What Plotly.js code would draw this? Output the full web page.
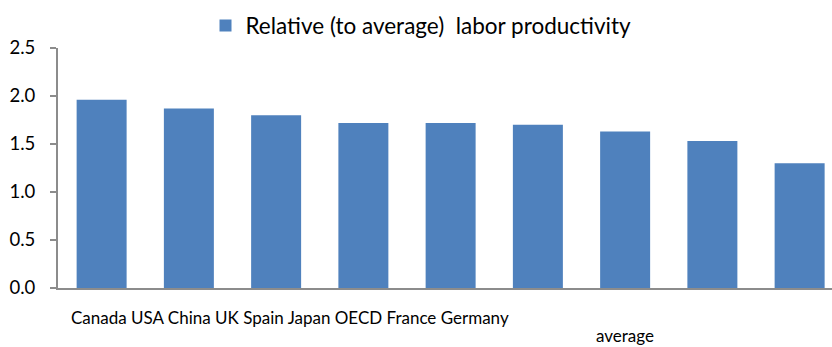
<!DOCTYPE html>
<html>
<head>
<meta charset="utf-8">
<script src="https://cdn.plot.ly/plotly-3.0.1.min.js"></script>
<style>html,body{margin:0;padding:0;background:#fff;}#chart{width:832px;height:347px;}</style>
</head>
<body>
<div id="chart"></div>
<script>
const categories = ["Canada", "USA", "China", "UK", "Spain", "Japan", "OECD average", "France", "Germany"];
const values = [1.96, 1.87, 1.80, 1.72, 1.72, 1.70, 1.63, 1.53, 1.30];
const seriesName = "Relative (to average)  labor productivity";
const yTicks = [0, 0.5, 1.0, 1.5, 2.0, 2.5];

// The original category labels overflow: first words on one line, the rest wrapped below
const line1 = categories.map(c => c.split(" ")[0]).join(" ");
const line2 = categories.map(c => c.split(" ").slice(1).join(" ")).filter(s => s).join(" ");

const trace = {
  type: "bar",
  x: categories,
  y: values,
  name: seriesName,
  marker: {color: "#4F81BD"},
  showlegend: true
};

const layout = {
  width: 832, height: 347,
  margin: {l: 58, r: 0, t: 48, b: 59, pad: 0},
  paper_bgcolor: "#fff", plot_bgcolor: "#fff",
  font: {family: "Lato, 'Open Sans', sans-serif", color: "#000"},
  bargap: 0.427,
  showlegend: true,
  legend: {
    orientation: "h", x: 0.469, xanchor: "center", y: 1.092, yanchor: "middle",
    font: {size: 22.5, color: "#000"}, bgcolor: "rgba(0,0,0,0)", itemwidth: 30
  },
  xaxis: {
    type: "category",
    range: [-0.5, 8.371],
    showticklabels: false,
    ticks: "", showgrid: false, zeroline: false,
    showline: true, linecolor: "#8c8c8c", linewidth: 2
  },
  yaxis: {
    range: [0, 2.5],
    tickvals: yTicks,
    ticktext: yTicks.map(v => v.toFixed(1)),
    ticks: "outside", ticklen: 6, tickcolor: "#8c8c8c", tickwidth: 2,
    showline: true, linecolor: "#8c8c8c", linewidth: 2,
    showgrid: false, zeroline: false,
    tickfont: {size: 18.5, color: "#000"}, ticklabelstandoff: 11
  },
  annotations: [
    {xref: "paper", yref: "paper", x: (290 - 58) / 774, y: -29 / 240, xanchor: "center", yanchor: "middle",
     text: line1, showarrow: false, font: {size: 17, color: "#000"}},
    {xref: "paper", yref: "paper", x: (625 - 58) / 774, y: -47 / 240, xanchor: "center", yanchor: "middle",
     text: line2, showarrow: false, font: {size: 17, color: "#000"}}
  ]
};

Plotly.newPlot("chart", [trace], layout, {displayModeBar: false, staticPlot: true});
</script>
</body>
</html>
